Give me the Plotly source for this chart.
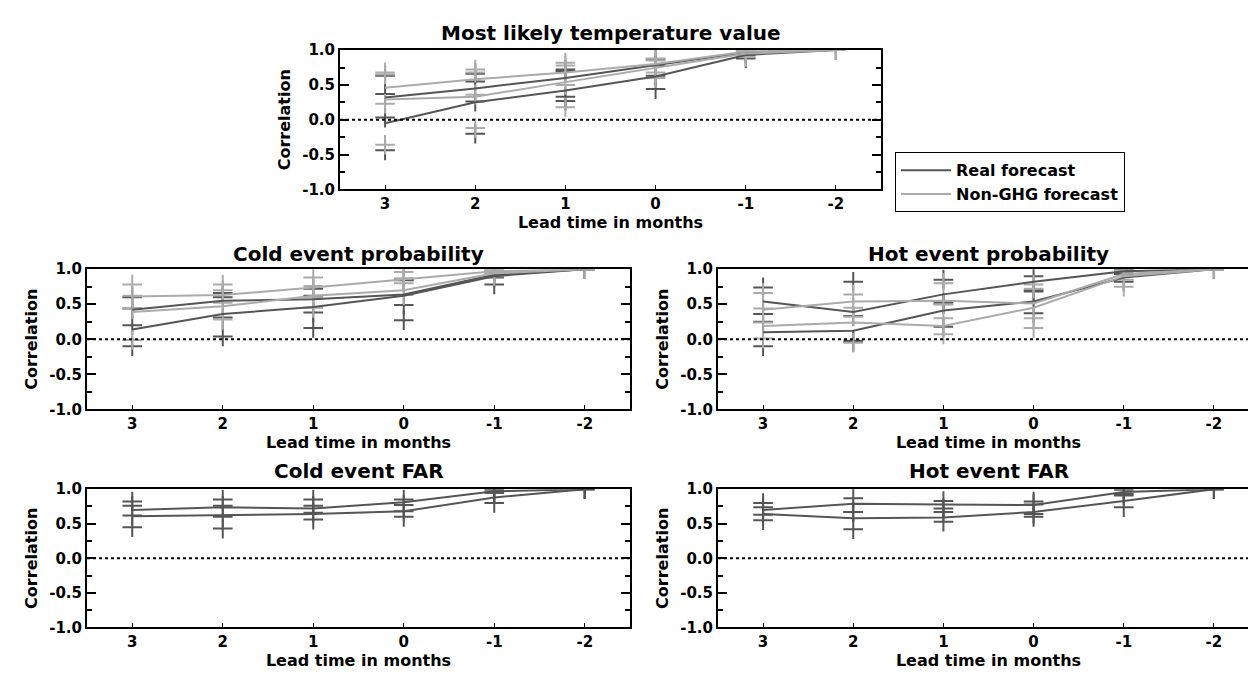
import plotly.graph_objects as go

# ---------------- data ----------------
x_lead = [3, 2, 1, 0, -1, -2]
x_tick_labels = ["3", "2", "1", "0", "-1", "-2"]
y_tick_vals = [-1.0, -0.5, 0.0, 0.5, 1.0]
y_tick_labels = ["-1.0", "-0.5", "0.0", "0.5", "1.0"]

panel_titles = ["Most likely temperature value", "Cold event probability",
                "Hot event probability", "Cold event FAR", "Hot event FAR"]
legend_names = ["Real forecast", "Non-GHG forecast"]

# Most likely temperature value
mlt_real_a = [-0.05, 0.25, 0.42, 0.62, 0.93, 1.0]
mlt_real_a_lo = [-0.44, -0.20, 0.27, 0.44, 0.88, 1.0]
mlt_real_a_hi = [0.37, 0.55, 0.70, 0.78, 0.97, 1.0]
mlt_real_b = [0.32, 0.45, 0.60, 0.78, 0.97, 1.0]
mlt_real_b_lo = [0.03, 0.26, 0.33, 0.63, 0.93, 1.0]
mlt_real_b_hi = [0.63, 0.66, 0.72, 0.87, 0.99, 1.0]
mlt_non_a = [0.46, 0.58, 0.68, 0.80, 0.98, 1.0]
mlt_non_a_lo = [0.23, 0.36, 0.50, 0.68, 0.94, 1.0]
mlt_non_a_hi = [0.68, 0.72, 0.82, 0.88, 0.99, 1.0]
mlt_non_b = [0.29, 0.33, 0.54, 0.74, 0.95, 1.0]
mlt_non_b_lo = [-0.36, -0.12, 0.18, 0.60, 0.90, 1.0]
mlt_non_b_hi = [0.65, 0.68, 0.78, 0.85, 0.98, 1.0]

# Cold event probability
cp_real_a = [0.14, 0.36, 0.46, 0.62, 0.90, 1.0]
cp_real_a_lo = [-0.10, 0.04, 0.16, 0.27, 0.78, 1.0]
cp_real_a_hi = [0.44, 0.60, 0.62, 0.84, 0.96, 1.0]
cp_real_b = [0.42, 0.55, 0.57, 0.64, 0.92, 1.0]
cp_real_b_lo = [0.20, 0.31, 0.38, 0.49, 0.88, 1.0]
cp_real_b_hi = [0.60, 0.66, 0.72, 0.85, 0.97, 1.0]
cp_non_a = [0.61, 0.63, 0.74, 0.85, 0.97, 1.0]
cp_non_a_lo = [0.43, 0.52, 0.60, 0.80, 0.94, 1.0]
cp_non_a_hi = [0.78, 0.78, 0.88, 0.96, 0.99, 1.0]
cp_non_b = [0.39, 0.47, 0.62, 0.70, 0.94, 1.0]
cp_non_b_lo = [-0.01, 0.28, 0.45, 0.63, 0.90, 1.0]
cp_non_b_hi = [0.62, 0.70, 0.76, 0.87, 0.98, 1.0]

# Hot event probability
hp_real_a = [0.54, 0.39, 0.64, 0.82, 0.97, 1.0]
hp_real_a_lo = [0.36, -0.02, 0.50, 0.70, 0.93, 1.0]
hp_real_a_hi = [0.74, 0.82, 0.85, 0.90, 0.99, 1.0]
hp_real_b = [0.10, 0.12, 0.41, 0.54, 0.88, 1.0]
hp_real_b_lo = [-0.10, -0.04, 0.18, 0.37, 0.82, 1.0]
hp_real_b_hi = [0.25, 0.33, 0.52, 0.68, 0.94, 1.0]
hp_non_a = [0.42, 0.54, 0.55, 0.51, 0.93, 1.0]
hp_non_a_lo = [0.24, 0.32, 0.30, 0.30, 0.85, 1.0]
hp_non_a_hi = [0.66, 0.64, 0.80, 0.78, 0.98, 1.0]
hp_non_b = [0.19, 0.24, 0.19, 0.45, 0.90, 1.0]
hp_non_b_lo = [0.01, -0.05, 0.07, 0.16, 0.75, 1.0]
hp_non_b_hi = [0.44, 0.45, 0.50, 0.72, 0.97, 1.0]

# Cold event FAR
cf_real_a = [0.70, 0.74, 0.72, 0.81, 0.97, 1.0]
cf_real_a_lo = [0.62, 0.60, 0.66, 0.68, 0.95, 1.0]
cf_real_a_hi = [0.82, 0.85, 0.85, 0.85, 0.99, 1.0]
cf_real_b = [0.61, 0.62, 0.64, 0.68, 0.88, 1.0]
cf_real_b_lo = [0.45, 0.43, 0.56, 0.60, 0.80, 1.0]
cf_real_b_hi = [0.76, 0.76, 0.76, 0.77, 0.95, 1.0]

# Hot event FAR
hf_real_a = [0.70, 0.79, 0.78, 0.77, 0.96, 1.0]
hf_real_a_lo = [0.63, 0.67, 0.67, 0.64, 0.91, 1.0]
hf_real_a_hi = [0.80, 0.87, 0.83, 0.82, 0.99, 1.0]
hf_real_b = [0.64, 0.58, 0.59, 0.67, 0.83, 1.0]
hf_real_b_lo = [0.55, 0.42, 0.53, 0.60, 0.74, 1.0]
hf_real_b_hi = [0.74, 0.67, 0.72, 0.78, 0.93, 1.0]

# ---------------- styling ----------------
DARK = "#555555"
LIGHT = "#ababab"
FONT = "DejaVu Sans"

panels = [
    ("x", "y", [(mlt_real_a, mlt_real_a_lo, mlt_real_a_hi, 0), (mlt_real_b, mlt_real_b_lo, mlt_real_b_hi, 0),
                (mlt_non_a, mlt_non_a_lo, mlt_non_a_hi, 1), (mlt_non_b, mlt_non_b_lo, mlt_non_b_hi, 1)]),
    ("x2", "y2", [(cp_real_a, cp_real_a_lo, cp_real_a_hi, 0), (cp_real_b, cp_real_b_lo, cp_real_b_hi, 0),
                  (cp_non_a, cp_non_a_lo, cp_non_a_hi, 1), (cp_non_b, cp_non_b_lo, cp_non_b_hi, 1)]),
    ("x3", "y3", [(hp_real_a, hp_real_a_lo, hp_real_a_hi, 0), (hp_real_b, hp_real_b_lo, hp_real_b_hi, 0),
                  (hp_non_a, hp_non_a_lo, hp_non_a_hi, 1), (hp_non_b, hp_non_b_lo, hp_non_b_hi, 1)]),
    ("x4", "y4", [(cf_real_a, cf_real_a_lo, cf_real_a_hi, 0), (cf_real_b, cf_real_b_lo, cf_real_b_hi, 0)]),
    ("x5", "y5", [(hf_real_a, hf_real_a_lo, hf_real_a_hi, 0), (hf_real_b, hf_real_b_lo, hf_real_b_hi, 0)]),
]

W, H = 1256, 681
# pixel boxes (left, right, top, bottom)
boxes = [
    (332, 873, 34, 177),
    (79, 622, 259, 403),
    (710, 1251, 259, 403),
    (79, 622, 485, 627),
    (710, 1251, 485, 627),
]
title_y = [16, 243, 243, 466, 466]

fig = go.Figure()
legend_done = [False, False]
for (xa, ya, series) in panels:
    for (c, lo, hi, g) in series:
        col = DARK if g == 0 else LIGHT
        fig.add_trace(go.Scatter(
            x=x_lead + x_lead, y=lo + hi, mode="markers", xaxis=xa, yaxis=ya,
            marker=dict(symbol="cross-thin", size=14, line=dict(color=col, width=2)),
            showlegend=False, hoverinfo="skip"))
    for (c, lo, hi, g) in series:
        col = DARK if g == 0 else LIGHT
        show = not legend_done[g]
        legend_done[g] = True
        fig.add_trace(go.Scatter(
            x=x_lead, y=c, mode="lines", xaxis=xa, yaxis=ya,
            line=dict(color=col, width=2), name=legend_names[g],
            showlegend=show, legendrank=g + 1))

tickfont = dict(family=FONT, size=15, color="black", weight="bold")
titlefont = dict(family=FONT, size=16, color="black", weight="bold")
layout = dict(
    width=W, height=H, margin=dict(l=0, r=0, t=0, b=0),
    paper_bgcolor="white", plot_bgcolor="white",
    showlegend=True,
    legend=dict(x=887 / W, y=1 - 139 / H, xanchor="left", yanchor="top",
                bordercolor="black", borderwidth=1, bgcolor="white",
                font=dict(family=FONT, size=16, color="black", weight="bold"),
                itemwidth=50, tracegroupgap=0),
)
annotations = []
shapes = []
for i, (l, r, t, b) in enumerate(boxes):
    sfx = "" if i == 0 else str(i + 1)
    layout["xaxis" + sfx] = dict(
        domain=[l / W, r / W], anchor="y" + sfx, range=[3.5, -2.5],
        tickmode="array", tickvals=x_lead, ticktext=x_tick_labels,
        ticks="inside", ticklen=4, tickwidth=1, tickcolor="black",
        showline=True, linewidth=2, linecolor="black", mirror=True,
        showgrid=False, zeroline=False, tickfont=tickfont,
        title=dict(text="Lead time in months", font=titlefont, standoff=0))
    layout["yaxis" + sfx] = dict(
        domain=[1 - b / H, 1 - t / H], anchor="x" + sfx, range=[-1, 1],
        tickmode="array", tickvals=y_tick_vals, ticktext=y_tick_labels,
        ticks="inside", ticklen=9, tickwidth=2, tickcolor="black",
        minor=dict(ticks="inside", ticklen=5, tickwidth=2, tickcolor="black",
                   tickvals=[-0.75, -0.25, 0.25, 0.75]),
        showline=True, linewidth=2, linecolor="black", mirror="ticks",
        showgrid=False, zeroline=False, tickfont=tickfont,
        title=dict(text="Correlation", font=titlefont, standoff=8))
    shapes.append(dict(type="line", xref="x" + sfx, yref="y" + sfx,
                       x0=3.5, x1=-2.5, y0=0, y1=0,
                       line=dict(color="black", width=2, dash="dot")))
    annotations.append(dict(text=panel_titles[i], xref="paper", yref="paper",
                            x=(l + r) / 2 / W, y=1 - title_y[i] / H,
                            xanchor="center", yanchor="middle", showarrow=False,
                            font=dict(family=FONT, size=20, color="black", weight="bold")))
layout["annotations"] = annotations
layout["shapes"] = shapes
fig.update_layout(**layout)

fig.write_html("out.html")
